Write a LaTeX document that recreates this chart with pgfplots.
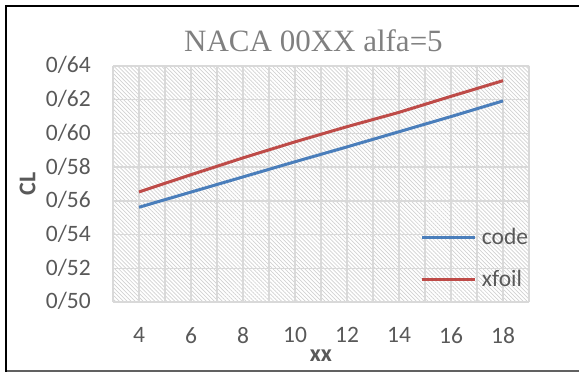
\documentclass[border=0pt]{standalone}
\usepackage{fontspec}
\setmainfont{Carlito}
\newfontfamily\titlefont{Liberation Serif}
\usepackage{pgfplots}
\usepackage{pgfplotstable}
\pgfplotsset{compat=1.18}
\usetikzlibrary{patterns.meta}

\definecolor{gridc}{HTML}{D9D9D9}
\definecolor{txt}{HTML}{595959}
\definecolor{ttl}{HTML}{808080}
\definecolor{codeblue}{HTML}{4A7EBB}
\definecolor{xfoilred}{HTML}{BE4B48}

% lift coefficient versus thickness (NACA 00XX, alpha = 5 deg)
\pgfplotstableread{
xx  code    xfoil
4   0.5562  0.5653
6   0.5652  0.5755
8   0.5742  0.5855
10  0.5832  0.5950
12  0.5920  0.6040
14  0.6010  0.6125
16  0.6100  0.6220
18  0.6193  0.6313
}\cldata

\begin{document}
\begin{tikzpicture}
\useasboundingbox (0pt,0pt) rectangle (579pt,372pt);
% chart frame
\draw[black!62, line width=1.5pt] (6pt,1pt) -- (579pt,1pt);
\draw[black, line width=2.6pt] (6pt,0pt) -- (6pt,366pt) -- (579pt,366pt);

\begin{axis}[
  at={(113pt,70pt)}, anchor=south west,
  scale only axis, width=416pt, height=236pt,
  xmin=3, xmax=19, ymin=0.5, ymax=0.64,
  xtick={4,6,8,10,12,14,16,18},
  minor xtick={3,5,7,9,11,13,15,17,19},
  ytick={0.50,0.52,0.54,0.56,0.58,0.60,0.62,0.64},
  yticklabels={0/50,0/52,0/54,0/56,0/58,0/60,0/62,0/64},
  grid=both,
  grid style={gridc, line width=1.3pt},
  minor grid style={gridc, line width=1.3pt},
  major tick length=0pt, minor tick length=0pt,
  axis line style={draw=none},
  axis background/.style={pattern={Lines[angle=-45,distance=2.8pt,line width=0.7pt]}, pattern color=black!18},
  /pgf/number format/assume math mode=true,
  ticklabel style={font=\fontsize{23.5}{28}\selectfont, text=txt},
  yticklabel style={anchor=base east, inner sep=0pt, xshift=-22pt, yshift=-7pt},
  xticklabel style={anchor=north, inner sep=0pt, yshift=-25pt},
  title={NACA 00XX alfa=5},
  title style={font=\titlefont\fontsize{31}{35}\selectfont, text=ttl,
    at={(axis description cs:0.482,1)}, anchor=base, yshift=8pt},
  xlabel={xx}, ylabel={CL},
  label style={font=\bfseries\fontsize{24}{28}\selectfont, text=txt},
  xlabel style={at={(axis description cs:0.5,-0.2288)}, anchor=center},
  ylabel style={at={(axis description cs:-0.2055,0.5)}, anchor=center},
  no markers,
  legend image code/.code={\draw (0pt,0pt) -- (53pt,0pt);},
  legend style={draw=none, fill=none, inner sep=0pt,
    at={(axis description cs:0.7397,0.185)}, anchor=west,
    font=\fontsize{23.5}{28}\selectfont, text=txt,
    row sep=24pt, nodes={inner sep=0pt}, column sep=5pt},
  legend cell align=left,
]
\addplot[codeblue, line width=3pt] table[x=xx, y=code] {\cldata};
\addlegendentry{code}
\addplot[xfoilred, line width=3pt] table[x=xx, y=xfoil] {\cldata};
\addlegendentry{xfoil}
\end{axis}
\end{tikzpicture}
\end{document}
